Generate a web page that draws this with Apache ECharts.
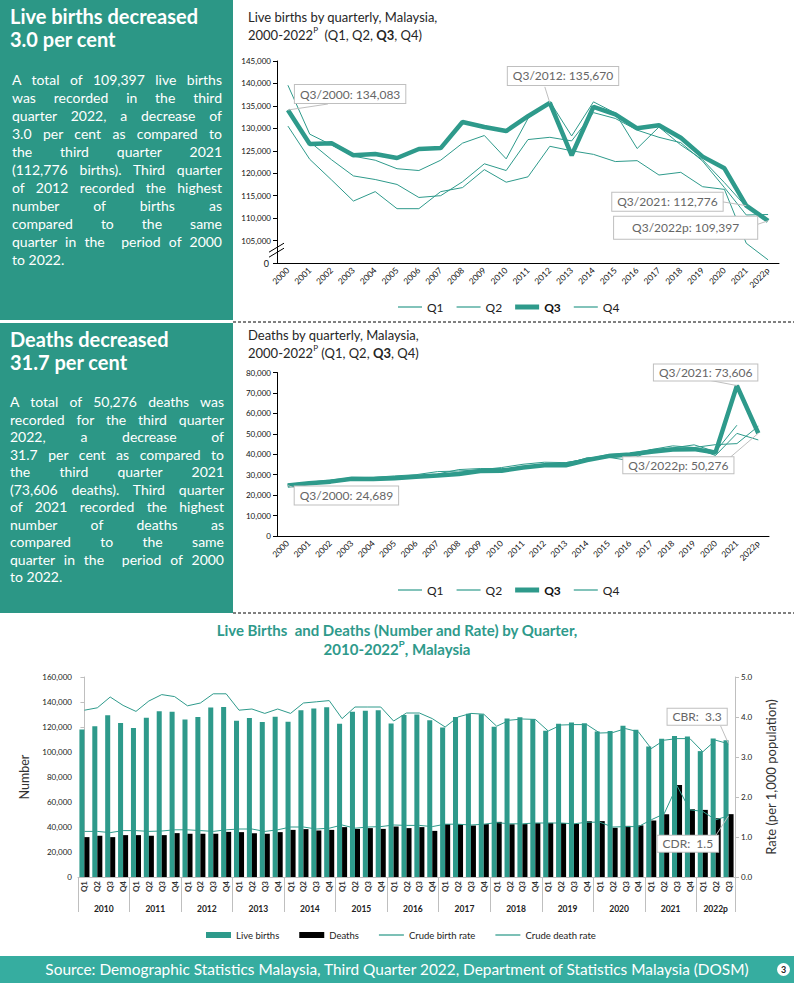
<!DOCTYPE html>
<html><head><meta charset="utf-8">
<script src="https://cdn.jsdelivr.net/npm/echarts@6/dist/echarts.min.js"></script>
<style>
body{margin:0;width:794px;height:983px;position:relative;overflow:hidden;background:#fff;font-family:Lato,'Open Sans',sans-serif;}
#c{position:absolute;left:0;top:0;width:794px;height:983px;z-index:1;}
.panel{position:absolute;left:0;width:233px;background:#2c9786;color:#fff;z-index:2;}
.ph{position:absolute;left:10px;font-weight:bold;font-size:20px;line-height:23px;white-space:nowrap;}
.para{position:absolute;font-size:14px;}
.para div{text-align:justify;text-align-last:justify;}
.para div.last{text-align:left;text-align-last:left;}
#src{position:absolute;left:0;top:956px;width:794px;height:27px;background:#36ada0;color:#fff;z-index:2;font-size:15.4px;line-height:27px;}
#src span.t{position:absolute;left:0;width:794px;text-align:center;top:0;}
#src span.n{position:absolute;left:777px;top:7px;width:13px;height:13px;border-radius:7px;background:#fff;color:#222;font-size:9px;font-weight:bold;line-height:13px;text-align:center;}
</style></head>
<body>
<div id="c"></div>
<div class="panel" style="top:0;height:320px;">
  <div class="ph" style="top:5px;">Live births decreased<br>3.0 per cent</div>
  <div class="para" style="left:12px;width:210px;top:71px;line-height:18px;">
    <div>A total of 109,397 live births</div>
    <div>was recorded in the third</div>
    <div>quarter 2022, a decrease of</div>
    <div>3.0 per cent as compared to</div>
    <div>the third quarter 2021</div>
    <div>(112,776 births). Third quarter</div>
    <div>of 2012 recorded the highest</div>
    <div>number of births as</div>
    <div>compared to the same</div>
    <div>quarter in the &nbsp;period of 2000</div>
    <div class="last">to 2022.</div>
  </div>
</div>
<div class="panel" style="top:323px;height:290px;">
  <div class="ph" style="top:5px;">Deaths decreased<br>31.7 per cent</div>
  <div class="para" style="left:10px;width:214px;top:70px;line-height:17.5px;">
    <div>A total of 50,276 deaths was</div>
    <div>recorded for the third quarter</div>
    <div>2022, a decrease of</div>
    <div>31.7 per cent as compared to</div>
    <div>the third quarter 2021</div>
    <div>(73,606 deaths). Third quarter</div>
    <div>of 2021 recorded the highest</div>
    <div>number of deaths as</div>
    <div>compared to the same</div>
    <div>quarter in the &nbsp;period of 2000</div>
    <div class="last">to 2022.</div>
  </div>
</div>
<div id="src"><span class="t">Source: Demographic Statistics Malaysia, Third Quarter 2022, Department of Statistics Malaysia (DOSM)</span><span class="n">3</span></div>
<script>
// ---------- DATA ----------
const years = ['2000','2001','2002','2003','2004','2005','2006','2007','2008','2009','2010','2011','2012','2013','2014','2015','2016','2017','2018','2019','2020','2021','2022p'];
const quarterNames = ['Q1','Q2','Q3','Q4'];

const birthsQ1 = [130500,123100,118500,113800,115900,112100,112100,115900,116800,120800,118000,119200,126000,125000,124200,122600,122800,119600,120200,117000,116400,104400,100700];
const birthsQ2 = [134000,127000,123000,119400,118600,117500,114600,115000,118100,122100,120600,127500,128000,127200,133500,132200,129600,128000,126800,122700,116800,110700,110800];
const birthsQ3 = [134083,126500,126700,124000,124300,123400,125400,125600,131400,130300,129400,132700,135670,124000,134800,133100,130000,130700,127900,123700,121100,112776,109397];
const birthsQ4 = [139600,128700,126300,123800,122900,121000,120600,122900,126700,128400,123200,132200,136000,128300,135900,133400,125500,130300,126300,123000,117900,112500,null];

const deathsQ1 = [24500,25500,26200,27500,28300,28800,29300,30000,31000,32000,31900,33500,34600,35900,37700,39900,40400,42300,44100,43300,44700,45200,53700];
const deathsQ2 = [24900,25700,26800,28000,28600,29000,29500,30300,32500,33000,33000,33000,34600,35100,38300,38500,39100,42300,42300,43100,39400,50200,47000];
const deathsQ3 = [24689,25800,26600,28000,27900,28300,29000,29600,30300,31800,31900,33500,34600,34600,37200,39100,39900,41200,42300,42500,40900,73606,50276];
const deathsQ4 = [25300,26300,27400,28500,28700,29400,30000,31500,31800,32400,33500,35100,36100,35900,37700,38500,36900,42300,43100,44600,41300,54200,null];

// Crude rates per 1,000 population, 2010 Q1 .. 2022 Q3
const crudeBirthRate = [4.17,4.23,4.50,4.29, 4.14,4.40,4.56,4.51, 4.28,4.35,4.58,4.58, 4.17,4.20,4.09,4.20, 4.09,4.35,4.38,4.41, 3.96,4.25,4.25,4.25, 3.90,4.10,4.10,3.96, 3.75,4.00,4.09,4.07, 3.77,3.92,3.95,3.94, 3.65,3.80,3.81,3.81, 3.60,3.61,3.71,3.63, 3.21,3.42,3.46,3.46, 3.13,3.42,3.33];
const crudeDeathRate = [1.14,1.14,1.11,1.16, 1.16,1.14,1.15,1.18, 1.18,1.16,1.14,1.18, 1.20,1.20,1.14,1.18, 1.25,1.25,1.20,1.22, 1.30,1.22,1.25,1.26, 1.30,1.29,1.29,1.26, 1.32,1.32,1.30,1.32, 1.36,1.33,1.33,1.35, 1.35,1.35,1.33,1.37, 1.37,1.25,1.26,1.26, 1.43,1.58,2.28,1.68, 1.64,1.43,1.53];

// ---------- BUILD ----------
const TEAL = '#2e9a8b';
const FONT = 'Lato, "Open Sans", sans-serif';
const fmt = v => Number(v).toLocaleString('en-US');
const bQ = [birthsQ1,birthsQ2,birthsQ3,birthsQ4];
const dQ = [deathsQ1,deathsQ2,deathsQ3,deathsQ4];
const bCats=[], bBirths=[], bDeaths=[], groups=[], groupStarts=[];
for (let y = years.indexOf('2010'); y < years.length; y++) {
  const start = bCats.length;
  groupStarts.push(start);
  for (let q = 0; q < 4; q++) {
    if (bQ[q][y] == null) continue;
    bCats.push(years[y] + ' ' + quarterNames[q]);
    bBirths.push(bQ[q][y]);
    bDeaths.push(dQ[q][y]);
  }
  groups.push({label: years[y], center: (start + bCats.length - 1) / 2});
}

const G1 = {left:277, top:61, width:502, height:202};
const G2 = {left:277, top:372.5, width:492, height:163.5};
const G3 = {left:78, top:677, width:657, height:200};
const BIRTH_AXIS_MIN = 100000;

function lineS(name, data, ax, thick) {
  return {name, type:'line', xAxisIndex:ax, yAxisIndex:ax, data, symbol:'none',
    lineStyle:{color:TEAL, width: thick ? 4.5 : 1}, itemStyle:{color:TEAL}, z: thick ? 6 : 3, animation:false};
}
const catAxis = (gi) => ({type:'category', gridIndex:gi, data:years, boundaryGap:true,
  axisLine:{lineStyle:{color:'#000', width:1}}, axisTick:{length:4, lineStyle:{color:'#000'}},
  axisLabel:{rotate:45, fontSize:8.5, color:'#111', margin:6, interval:0, fontFamily:FONT}});
const valAxis = (gi, min, max, interval, brokenMin) => ({type:'value', gridIndex:gi, min, max, interval,
  axisLine:{show:true, lineStyle:{color:'#000'}}, axisTick:{show:true, length:4, lineStyle:{color:'#000'}},
  splitLine:{show:false},
  axisLabel:{fontSize:8, color:'#111', margin:6, fontFamily:FONT, showMinLabel:true, showMaxLabel:true,
    hideOverlap:false, formatter: v => (v === min && brokenMin) ? '' : fmt(v)}});

const THIN = 'path://M0,0H24V1.2H0Z', THICK = 'path://M0,0H24V5H0Z';
const legendQ = [{name:'Q1', icon:THIN},{name:'Q2', icon:THIN},{name:'Q3', icon:THICK, textStyle:{fontWeight:'bold', color:'#111'}},{name:'Q4', icon:THIN}];
const GRAY = '#bfbfbf';
const titleStyle = {fontSize:13, fontWeight:'normal', color:'#262626', lineHeight:18, fontFamily:FONT,
  rich:{p:{fontSize:8, verticalAlign:'top', lineHeight:10, color:'#262626'}, b:{fontSize:13, fontWeight:'bold', color:'#262626'}}};

const option = {
  animation:false,
  textStyle:{fontFamily:FONT},
  title:[
    {text:'Live births by quarterly, Malaysia,\n2000-2022{p|P}  (Q1, Q2, {b|Q3}, Q4)', left:243, top:3, textStyle:titleStyle},
    {text:'Deaths by quarterly, Malaysia,\n2000-2022{p|P} (Q1, Q2, {b|Q3}, Q4)', left:243, top:321, textStyle:titleStyle}
  ],
  legend:[
    {data:legendQ, left:393, top:296, itemWidth:24, itemHeight:8, itemGap:13, textStyle:{fontSize:12, color:'#222'}},
    {data:legendQ, left:393, top:579, itemWidth:24, itemHeight:8, itemGap:13, textStyle:{fontSize:12, color:'#222'}},
    {data:[{name:'Live births', icon:'rect'},{name:'Deaths', icon:'rect'},{name:'Crude birth rate', icon:THIN},{name:'Crude death rate', icon:THIN}],
     left:201, top:925, itemWidth:25, itemHeight:6, itemGap:20, textStyle:{fontSize:9.5, color:'#222'}}
  ],
  grid:[G1, G2, G3].map(g => Object.assign({containLabel:false}, g)),
  xAxis:[
    catAxis(0), catAxis(1),
    {type:'category', gridIndex:2, data:bCats, boundaryGap:true,
     axisLine:{lineStyle:{color:GRAY}},
     axisTick:{show:true, length:35, interval:(i) => groupStarts.includes(i), lineStyle:{color:GRAY}},
     axisLabel:{rotate:90, fontSize:8, fontWeight:'bold', color:'#333', margin:4, interval:0, formatter:v => v.split(' ')[1]}},
    {type:'value', gridIndex:2, position:'bottom', min:-0.5, max:50.5, interval:0.5,
     axisLine:{show:false}, axisTick:{show:false}, splitLine:{show:false},
     axisLabel:{margin:27, fontSize:8.5, fontWeight:'bold', color:'#222', showMinLabel:true, showMaxLabel:true,
       formatter:v => { const g = groups.find(g => Math.abs(g.center - v) < 0.01); return g ? g.label : ''; }}}
  ],
  yAxis:[
    valAxis(0, BIRTH_AXIS_MIN, 145000, 5000, true),
    valAxis(1, 0, 80000, 10000, false),
    {type:'value', gridIndex:2, min:0, max:160000, interval:20000, position:'left',
     axisLine:{show:true, lineStyle:{color:GRAY}}, axisTick:{show:true, length:4, lineStyle:{color:GRAY}}, splitLine:{show:false},
     axisLabel:{fontSize:8, color:'#222', margin:6, formatter:v => fmt(v)},
     name:'Number', nameLocation:'middle', nameGap:46, nameTextStyle:{fontSize:12.5, color:'#333'}},
    {type:'value', gridIndex:2, min:0, max:5, interval:1, position:'right',
     axisLine:{show:true, lineStyle:{color:GRAY}}, axisTick:{show:true, length:4, lineStyle:{color:GRAY}}, splitLine:{show:false},
     axisLabel:{fontSize:8, color:'#222', margin:6, formatter:v => v.toFixed(1)},
     name:'Rate (per 1,000 population)', nameLocation:'middle', nameGap:29, nameTextStyle:{fontSize:13, color:'#333'}}
  ],
  series:[
    lineS('Q1', birthsQ1, 0), lineS('Q2', birthsQ2, 0), lineS('Q3', birthsQ3, 0, true), lineS('Q4', birthsQ4, 0),
    lineS('Q1', deathsQ1, 1), lineS('Q2', deathsQ2, 1), lineS('Q3', deathsQ3, 1, true), lineS('Q4', deathsQ4, 1),
    {name:'Live births', type:'bar', xAxisIndex:2, yAxisIndex:2, data:bBirths, itemStyle:{color:TEAL}, barGap:'0%', barCategoryGap:'22%'},
    {name:'Deaths', type:'bar', xAxisIndex:2, yAxisIndex:2, data:bDeaths, itemStyle:{color:'#000'}, barGap:'0%', barCategoryGap:'22%'},
    {name:'Crude birth rate', type:'line', xAxisIndex:2, yAxisIndex:3, data:crudeBirthRate, symbol:'none', lineStyle:{color:TEAL, width:1}, itemStyle:{color:TEAL}, z:4},
    {name:'Crude death rate', type:'line', xAxisIndex:2, yAxisIndex:3, data:crudeDeathRate, symbol:'none', lineStyle:{color:TEAL, width:1}, itemStyle:{color:TEAL}, z:4}
  ]
};

const chart = echarts.init(document.getElementById('c'), null, {renderer:'svg', width:794, height:983});
chart.setOption(option);

// ---------- ANNOTATIONS (anchored to data through the chart's scales) ----------
const gfx = [];
function callout(seriesIndex, idx, value, text, dx, dy, ex, ey, pad) {
  const P = chart.convertToPixel({seriesIndex}, [idx, value]);
  gfx.push({type:'line', z:50, shape:{x1:P[0], y1:P[1], x2:P[0]+ex, y2:P[1]+ey}, style:{stroke:GRAY, lineWidth:1}});
  gfx.push({type:'text', z:51, x:P[0]+dx, y:P[1]+dy,
    style:{text, font:'12px ' + FONT, fill:'#666', backgroundColor:'#fff', borderColor:GRAY, borderWidth:1,
      padding:pad || [3,5], align:'left', verticalAlign:'top'}});
}
const last = years.length - 1, i2021 = years.indexOf('2021'), i2012 = years.indexOf('2012');
callout(2, 0, birthsQ3[0], 'Q3/2000: ' + fmt(birthsQ3[0]), 7, -25, 40, -6);
callout(2, i2012, birthsQ3[i2012], 'Q3/2012: ' + fmt(birthsQ3[i2012]), -42, -36, -5, -16);
callout(2, i2021, birthsQ3[i2021], 'Q3/2021: ' + fmt(birthsQ3[i2021]), -134, -13, -25, -4);
callout(2, last, birthsQ3[last], 'Q3/' + years[last] + ': ' + fmt(birthsQ3[last]), -154, -4, -15, 5, [5,18]);
callout(6, i2021, deathsQ3[i2021], 'Q3/2021: ' + fmt(deathsQ3[i2021]), -83, -21, -26, -5, [2,5]);
callout(6, last, deathsQ3[last], 'Q3/' + years[last] + ': ' + fmt(deathsQ3[last]), -135, 24, -28, 24, [2,5]);
callout(6, 0, deathsQ3[0], 'Q3/2000: ' + fmt(deathsQ3[0]), 7, 1, 12, 4, [3,5]);
const bl = bCats.length - 1;
callout(10, bl, crudeBirthRate[bl], 'CBR:  ' + crudeBirthRate[bl].toFixed(1), -61, -35, -8, -18, [2,5]);
callout(11, bl, crudeDeathRate[bl], 'CDR:  ' + crudeDeathRate[bl].toFixed(1), -71, 20, -13, 20, [2,5]);

// broken value axis: the bottom tick stands for 0, with break marks above it
const y0 = chart.convertToPixel({yAxisIndex:0}, BIRTH_AXIS_MIN);
gfx.push({type:'text', z:60, x:G1.left-8, y:y0, style:{text:'0', font:'9px ' + FONT, fill:'#111', align:'right', verticalAlign:'middle'}});
const yb = chart.convertToPixel({yAxisIndex:0}, 103300);
[0, 5].forEach(o => gfx.push({type:'line', z:52, shape:{x1:G1.left-8, y1:yb+4+o, x2:G1.left+7, y2:yb-5+o}, style:{stroke:'#000', lineWidth:1}}));
// dashed separators
[322, 613].forEach(y => gfx.push({type:'line', z:1, shape:{x1:233, y1:y, x2:794, y2:y}, style:{stroke:'#000', lineWidth:1, lineDash:[3,2]}}));
// bottom chart title
gfx.push({type:'text', z:10, x:397, y:620, style:{
  text:'Live Births  and Deaths (Number and Rate) by Quarter,\n2010-2022{p|P}, Malaysia',
  font:'bold 15px ' + FONT, fill:TEAL, align:'center', verticalAlign:'top', lineHeight:19,
  rich:{p:{fontSize:9, fontWeight:'bold', fill:TEAL, verticalAlign:'top', lineHeight:11}}}});
chart.setOption({graphic:gfx});
</script>
</body></html>
